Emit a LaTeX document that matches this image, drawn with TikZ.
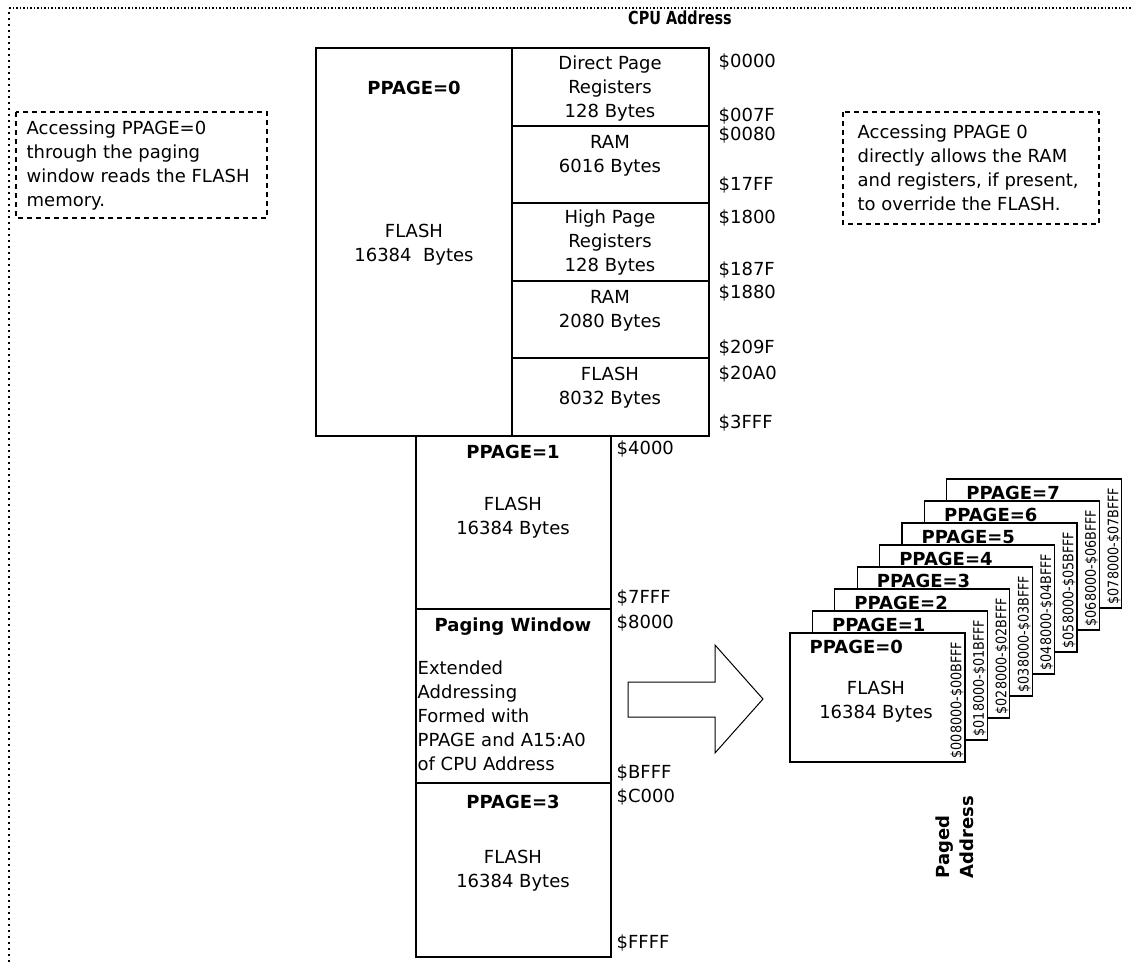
\documentclass[tikz,border=0pt]{standalone}
\usepackage{fontspec}
\usepackage{graphicx}
\setmainfont{DejaVu Sans}
\begin{document}
\begin{tikzpicture}[x=1pt,y=-1pt, line width=1.3pt,
  every node/.style={inner sep=0pt, font=\fontsize{18}{24}\selectfont},
  txt/.style={align=center},
  bold/.style={font=\fontsize{18}{24}\selectfont\bfseries},
  addr/.style={anchor=west},
  note/.style={dash pattern=on 5pt off 4pt, line width=1.2pt},
  frametop/.style={dash pattern=on 1.5pt off 2pt, line width=1.5pt},
  frameleft/.style={dash pattern=on 2pt off 4pt, line width=2pt},
  vaddr/.style={rotate=90, font=\fontsize{14.5}{14.5}\selectfont},
  page/.style={fill=white, line width=1.3pt},
  bigarrow/.style={line width=1pt}]
\useasboundingbox (0,0) rectangle (1133,962);

% outer frame (top and left only)
\draw[frameleft] (9,962) -- (9,8);
\draw[frametop] (9,8) -- (1133,8);
\node[bold] (cpu) at (680,18) {\scalebox{0.8}[1]{CPU Address}};

% notes
\draw[note] (16,112) rectangle (267,218);
\node[anchor=west, align=left] (n1) at (26,166) {Accessing PPAGE=0\\through the paging\\window reads the FLASH\\memory.};
\draw[note] (843,112) rectangle (1099,224);
\node[anchor=west, align=left] (n2) at (857,168) {Accessing PPAGE 0\\directly allows the RAM\\and registers, if present,\\to override the FLASH.};

% top block (PPAGE=0)
\draw (316,48) rectangle (709,436);
\draw (512,48) -- (512,436);
\draw (512,126) -- (709,126);
\draw (512,203) -- (709,203);
\draw (512,281) -- (709,281);
\draw (512,358) -- (709,358);

\node[bold] (p0) at (414,88) {PPAGE=0};
\node[txt] (f0) at (414,245) {FLASH\\16384\ \ Bytes};
\node[txt] (dpr) at (610,89) {Direct Page\\Registers\\128 Bytes};
\node[txt] (ram1) at (610,156) {RAM\\6016 Bytes};
\node[txt] (hpr) at (610,243) {High Page\\Registers\\128 Bytes};
\node[txt] (ram2) at (610,311) {RAM\\2080 Bytes};
\node[txt] (fl2) at (610,388) {FLASH\\8032 Bytes};

\node[addr] (a0000) at (718,62) {\$0000};
\node[addr] (a007F) at (718,116) {\$007F};
\node[addr] (a0080) at (718,135) {\$0080};
\node[addr] (a17FF) at (718,185) {\$17FF};
\node[addr] (a1800) at (718,218) {\$1800};
\node[addr] (a187F) at (718,270) {\$187F};
\node[addr] (a1880) at (718,293) {\$1880};
\node[addr] (a209F) at (718,348) {\$209F};
\node[addr] (a20A0) at (718,374) {\$20A0};
\node[addr] (a3FFF) at (718,423) {\$3FFF};

% lower column
\draw (416,436) -- (416,957) -- (611,957) -- (611,436);
\draw (416,609) -- (611,609);
\draw[line width=2.5pt] (416,783) -- (611,783);

\node[bold] (p1) at (513,452) {PPAGE=1};
\node[txt] (f1) at (513,518) {FLASH\\16384 Bytes};
\node[bold] (pw) at (513,627) {Paging Window};
\node[anchor=west, align=left] (ext) at (417,716) {Extended\\Addressing\\Formed with\\PPAGE and A15:A0\\of CPU Address};
\node[bold] (p3) at (513,802) {PPAGE=3};
\node[txt] (f3) at (513,871) {FLASH\\16384 Bytes};

\node[addr] (a4000) at (616,449) {\$4000};
\node[addr] (a7FFF) at (616,598) {\$7FFF};
\node[addr] (a8000) at (616,623) {\$8000};
\node[addr] (aBFFF) at (616,773) {\$BFFF};
\node[addr] (aC000) at (616,797) {\$C000};
\node[addr] (aFFFF) at (616,943) {\$FFFF};

% big arrow
\draw[bigarrow] (628,682) -- (715,682) -- (715,645) -- (763,699) -- (715,753) -- (715,717) -- (628,717) -- cycle;

% stacked pages
\foreach \k in {7,6,...,0} {
  \pgfmathsetmacro{\xl}{790+22.4*\k}
  \pgfmathsetmacro{\yt}{633-22*\k}
  \draw[page] (\xl,\yt) rectangle ++(175,129);
  \node[bold, anchor=west] (pp\k) at (\xl+19,\yt+14) {PPAGE=\k};
  \node[vaddr] (va\k) at (\xl+167,\yt+67) {\scalebox{0.88}[1]{\$0\k8000-\$0\k BFFF}};
}
\node[txt] (sf) at (876,702) {FLASH\\16384 Bytes};

\node[bold, rotate=90, align=left, anchor=north west] (paged) at (935,879) {Paged\\Address};
\end{tikzpicture}
\end{document}
